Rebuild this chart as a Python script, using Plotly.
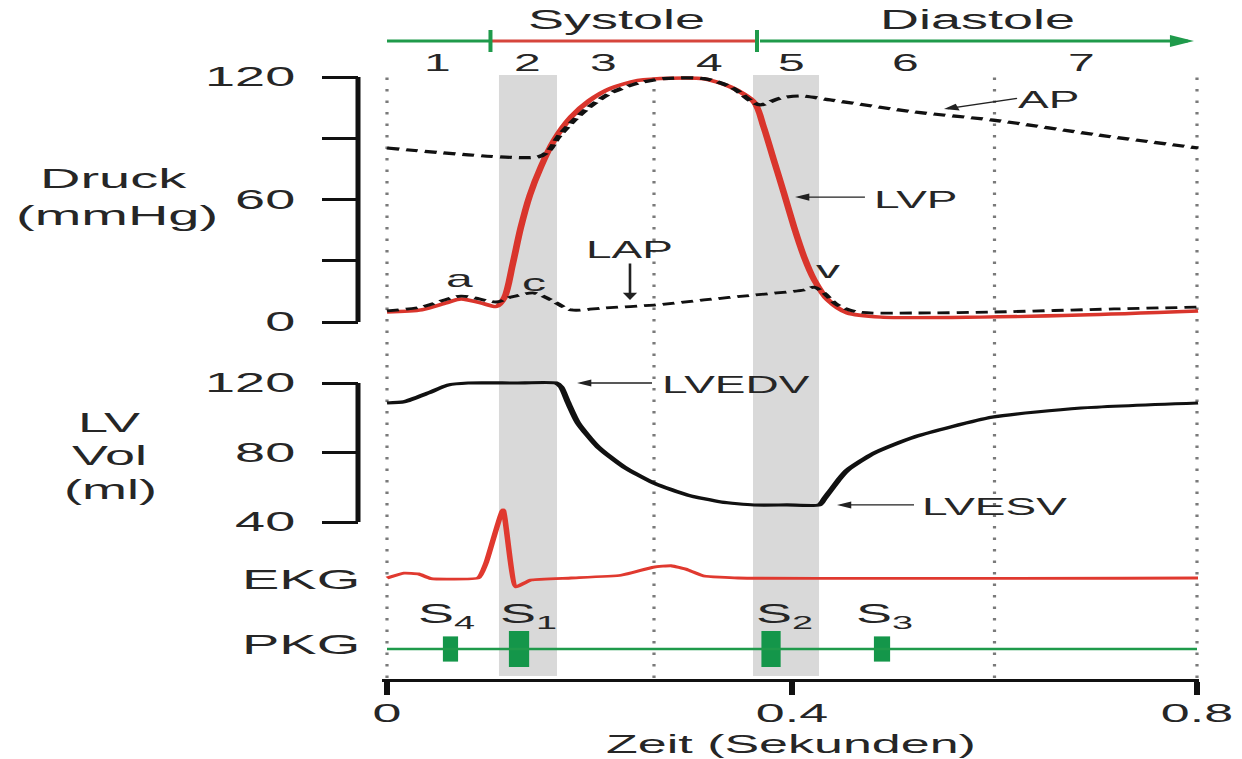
import plotly.graph_objects as go

# ---------------- data (time in s) ----------------
# left-ventricular pressure LVP (mmHg)
lvp_t = [0.0, 0.034, 0.058, 0.073, 0.093, 0.108, 0.116, 0.124, 0.132, 0.141, 0.152, 0.165,
         0.182, 0.2, 0.221, 0.248, 0.2805, 0.313, 0.34, 0.3625, 0.372, 0.382, 0.392, 0.402,
         0.412, 0.422, 0.4356, 0.455, 0.488, 0.5867, 0.685, 0.801]
lvp_p = [4.9, 5.9, 9.3, 11.3, 9.3, 7.6, 12.0, 28.0, 46.0, 62.0, 76.0, 89.0,
         100.5, 108.5, 114.5, 118.3, 119.4, 119.1, 115.0, 107.7, 95.5, 79.3, 63.2, 46.5,
         31.8, 20.6, 10.8, 4.4, 2.4, 2.4, 3.4, 5.4]

# aortic pressure AP (mmHg)
ap_t = [0.0, 0.149, 0.160, 0.169, 0.182, 0.1985, 0.221, 0.248, 0.2735, 0.313, 0.34, 0.3625,
        0.369, 0.389, 0.409, 0.4385, 0.5205, 0.5985, 0.702, 0.801]
ap_p = [85.2, 80.8, 84.0, 90.5, 97.5, 104.8, 112.2, 117.0, 119.2, 119.2, 115.0, 107.3,
        106.3, 109.7, 110.7, 108.7, 102.9, 98.9, 91.6, 85.2]

# left-atrial pressure LAP (mmHg)
lap_t = [0.0, 0.034, 0.073, 0.108, 0.1225, 0.145, 0.162, 0.182, 0.2145, 0.2637, 0.313,
         0.3625, 0.412, 0.4217, 0.4316, 0.445, 0.465, 0.5205, 0.5995, 0.718, 0.801]
lap_p = [5.4, 7.3, 12.7, 9.8, 12.2, 14.2, 10.8, 5.9, 6.9, 8.3, 10.8,
         13.2, 15.7, 17.1, 14.2, 8.3, 4.9, 4.4, 4.9, 6.4, 7.3]

# left-ventricular volume (ml)
vol_t = [0.0, 0.0168, 0.0405, 0.06, 0.08, 0.125, 0.167, 0.172, 0.179, 0.1886, 0.2084, 0.234,
         0.2637, 0.297, 0.33, 0.3625, 0.395, 0.4267, 0.432, 0.4385, 0.447, 0.455, 0.481,
         0.5205, 0.5985, 0.6854, 0.801]
vol_v = [108.5, 109.2, 114.2, 118.8, 120.0, 120.0, 120.0, 117.7, 108.5, 97.0, 83.2, 71.7,
         62.4, 55.5, 51.5, 49.8, 49.8, 49.8, 53.5, 58.4, 65.0, 70.0, 79.7,
         88.9, 100.4, 105.6, 108.5]

# ECG (mV, arbitrary)
ekg_t = [0.0, 0.0168, 0.031, 0.0435, 0.09, 0.0978, 0.1146, 0.1274, 0.1422, 0.182, 0.231,
         0.2637, 0.2805, 0.297, 0.313, 0.3467, 0.801]
ekg_mv = [0.0, 0.07, 0.06, -0.01, 0.0, 0.22, 1.0, -0.13, -0.03, 0.0, 0.04,
          0.16, 0.18, 0.12, 0.03, 0.0, 0.0]

# phonocardiogram: heart sounds
pkg_names = ["S<sub>4</sub>", "S<sub>1</sub>", "S<sub>2</sub>", "S<sub>3</sub>"]
pkg_t = [0.0627, 0.1304, 0.3793, 0.4889]
pkg_w = [0.015, 0.020, 0.019, 0.016]
pkg_amp = [0.7, 1.0, 1.0, 0.7]
pkg_base_t = [0.0, 0.8]

# phases
phase_nums = ["1", "2", "3", "4", "5", "6", "7"]
phase_num_t = [0.0494, 0.1383, 0.2143, 0.319, 0.399, 0.5116, 0.6854]
systole_t = [0.1022, 0.3654]
iso_bands = [(0.1106, 0.1679), (0.3615, 0.4267)]
dotted_t = [0.0, 0.2637, 0.6, 0.8]

p_ticks = [0, 30, 60, 90, 120]
p_ticktext = ["0", "", "60", "", "120"]
v_ticks = [40, 80, 120]
x_ticks = [0, 0.4, 0.8]
x_ticktext = ["0", "0.4", "0.8"]

# ---------------- geometry helpers ----------------
XR, H = 1242, 759          # reference pixel frame
SX = 2                     # the reference is stretched 2x horizontally
W = XR // SX
T0_PX, PX_PER_S = 387, 1012.5
FONT = "Liberation Sans, Arial, sans-serif"
TXT = "#262626"
GREEN = "#1f9a4b"
RED = "#d9352c"


def fx(xpx):
    return xpx / XR


def fy(ypx):
    return 1 - ypx / H


def ydomain(rng, va, pa, vb, pb):
    k = (pb - pa) / (vb - va)
    p0 = pa + (rng[0] - va) * k
    p1 = pa + (rng[1] - va) * k
    return [fy(p0), fy(p1)]


x_range = [-0.005, 0.802]
x_dom = [fx(T0_PX + PX_PER_S * x_range[0]), fx(T0_PX + PX_PER_S * x_range[1])]
p_range = [-12, 126]
p_dom = ydomain(p_range, 0, 322, 120, 77)
v_range = [30, 128]
v_dom = ydomain(v_range, 40, 522, 120, 383)
e_range = [-0.3, 1.1]
e_dom = ydomain(e_range, 0, 578, 1, 510)
k_range = [-2, 2]
k_dom = ydomain(k_range, 0, 649, 1, 631)

fig = go.Figure()

fig.add_trace(go.Scatter(x=lvp_t, y=lvp_p, mode="lines", yaxis="y",
                         line=dict(color=RED, width=3.4, shape="spline", smoothing=0.8)))
fig.add_trace(go.Scatter(x=ap_t, y=ap_p, mode="lines", yaxis="y",
                         line=dict(color="#111", width=3.2, dash="6px,3.5px",
                                   shape="spline", smoothing=0.8)))
fig.add_trace(go.Scatter(x=lap_t, y=lap_p, mode="lines", yaxis="y",
                         line=dict(color="#111", width=2.8, dash="6px,3.5px",
                                   shape="spline", smoothing=0.8)))
fig.add_trace(go.Scatter(x=vol_t, y=vol_v, mode="lines", yaxis="y2",
                         line=dict(color="#111", width=3.2, shape="spline", smoothing=0.6)))
fig.add_trace(go.Scatter(x=ekg_t, y=ekg_mv, mode="lines", yaxis="y3",
                         line=dict(color="#e0392f", width=2.8, shape="spline", smoothing=0.4)))
fig.add_trace(go.Scatter(x=pkg_base_t, y=[0, 0], mode="lines", yaxis="y4",
                         line=dict(color=GREEN, width=2.4)))
fig.add_trace(go.Bar(x=pkg_t, y=[2 * a for a in pkg_amp], base=[-a for a in pkg_amp],
                     width=pkg_w, yaxis="y4", marker=dict(color="#14964a", line=dict(width=0))))

tickfont = dict(size=27, color=TXT, family=FONT)
xtickfont = dict(size=26, color=TXT, family=FONT)
fig.update_layout(
    width=W, height=H, autosize=False, showlegend=False,
    margin=dict(l=0, r=0, t=0, b=0, pad=0, autoexpand=False),
    paper_bgcolor="white", plot_bgcolor="rgba(0,0,0,0)",
    font=dict(family=FONT, color=TXT),
    xaxis=dict(domain=x_dom, range=x_range, anchor="free", position=fy(680), automargin=False,
               showline=True, linewidth=3, linecolor="#111", showgrid=False, zeroline=False,
               ticks="outside", ticklen=13, tickwidth=2.5, tickcolor="#111",
               tickvals=x_ticks, ticktext=x_ticktext, tickfont=xtickfont, ticklabelstandoff=-4),
    yaxis=dict(domain=p_dom, range=p_range, anchor="free", position=fx(358), automargin=False,
               showline=False, showgrid=False, zeroline=False,
               ticks="outside", ticklen=18, tickwidth=3, tickcolor="#111",
               tickvals=p_ticks, ticktext=p_ticktext, tickfont=tickfont, ticklabelstandoff=8),
    yaxis2=dict(domain=v_dom, range=v_range, anchor="free", position=fx(358), automargin=False,
                showline=False, showgrid=False, zeroline=False,
                ticks="outside", ticklen=18, tickwidth=3, tickcolor="#111",
                tickvals=v_ticks, tickfont=tickfont, ticklabelstandoff=8),
    yaxis3=dict(domain=e_dom, range=e_range, anchor="free", position=fx(358), visible=False,
                automargin=False),
    yaxis4=dict(domain=k_dom, range=k_range, anchor="free", position=fx(358), visible=False,
                automargin=False),
)

shapes = []
for a, b in iso_bands:
    shapes.append(dict(type="rect", xref="x", yref="paper", x0=a, x1=b, y0=fy(676), y1=fy(75),
                       fillcolor="#d9d9d9", line=dict(width=0), layer="below"))
for t in dotted_t:
    shapes.append(dict(type="line", xref="x", yref="paper", x0=t, x1=t, y0=fy(678), y1=fy(77),
                       line=dict(color="#7a7a7a", width=1.6, dash="2.5px,9px"), layer="below"))
# axis brackets
shapes.append(dict(type="line", xref="paper", yref="y", x0=fx(358), x1=fx(358), y0=0, y1=120,
                   line=dict(color="#111", width=2.5)))
shapes.append(dict(type="line", xref="paper", yref="y2", x0=fx(358), x1=fx(358), y0=40, y1=120,
                   line=dict(color="#111", width=2.5)))
# phase bar on top
ytop = fy(41)
shapes.append(dict(type="line", xref="x", yref="paper", x0=0, x1=systole_t[0], y0=ytop, y1=ytop,
                   line=dict(color=GREEN, width=3)))
shapes.append(dict(type="line", xref="x", yref="paper", x0=systole_t[0], x1=systole_t[1],
                   y0=ytop, y1=ytop, line=dict(color="#d6453c", width=3)))
for t in systole_t:
    shapes.append(dict(type="line", xref="x", yref="paper", x0=t, x1=t, y0=fy(52), y1=fy(30),
                       line=dict(color=GREEN, width=2)))
fig.update_layout(shapes=shapes)

ann = []


def label(text, xpx, ypx, size):
    ann.append(dict(text=text, x=fx(xpx), y=fy(ypx), xref="paper", yref="paper",
                    showarrow=False, xanchor="center", yanchor="middle",
                    font=dict(size=size, color=TXT, family=FONT)))


def arrow(yref, head, tail):
    ann.append(dict(text="", x=head[0], y=head[1], ax=tail[0], ay=tail[1],
                    xref="x", yref=yref, axref="x", ayref=yref, showarrow=True,
                    arrowhead=2, arrowsize=1.1, arrowwidth=1.3, arrowcolor="#222", standoff=0))


# top phase arrow (diastole)
ann.append(dict(text="", x=0.797, y=ytop, xref="x", yref="paper", ax=systole_t[1], ay=0,
                axref="x", ayref="pixel", showarrow=True, arrowhead=2, arrowsize=0.8,
                arrowwidth=3, arrowcolor=GREEN, standoff=0))

label("Systole", 617, 20, 27)
label("Diastole", 978, 20, 27)
for n, t in zip(phase_nums, phase_num_t):
    label(n, T0_PX + PX_PER_S * t, 63, 24)
label("Druck", 113, 178, 28)
label("(mmHg)", 117, 215, 28)
label("LV", 108, 423, 27)
label("Vol", 110, 456, 27)
label("(ml)", 110, 490, 27)
label("EKG", 300, 579, 28)
label("PKG", 300, 644, 28)
label("a", 460, 278, 24)
label("c", 533, 282, 24)
label("v", 828, 269, 24)
label("LAP", 628, 250, 23)
label("AP", 1049, 100, 23)
label("LVP", 916, 200, 23)
label("LVEDV", 735, 385, 23)
label("LVESV", 995, 507, 23)
for name, xp in zip(pkg_names, [447, 529, 784, 885]):
    label(name, xp, 616, 27)
label("Zeit (Sekunden)", 790, 744, 26)

arrow("y", (0.5501, 104.3), (0.6252, 109.7))     # AP
arrow("y", (0.403, 61.2), (0.475, 61.2))         # LVP
arrow("y", (0.24, 10.8), (0.24, 29.4))           # LAP
arrow("y2", (0.1877, 120.0), (0.2647, 120.0))    # LVEDV
arrow("y2", (0.4444, 49.8), (0.5235, 49.8))      # LVESV

fig.update_layout(annotations=ann)

post = ("var gd=document.getElementById('{plot_id}');"
        "document.body.style.margin='0';document.body.style.overflow='hidden';"
        "gd.style.transformOrigin='0 0';gd.style.transform='scaleX(" + str(SX) + ")';")
fig.write_html("out.html", include_plotlyjs=True, full_html=True, post_script=post,
               config={"displayModeBar": False})
